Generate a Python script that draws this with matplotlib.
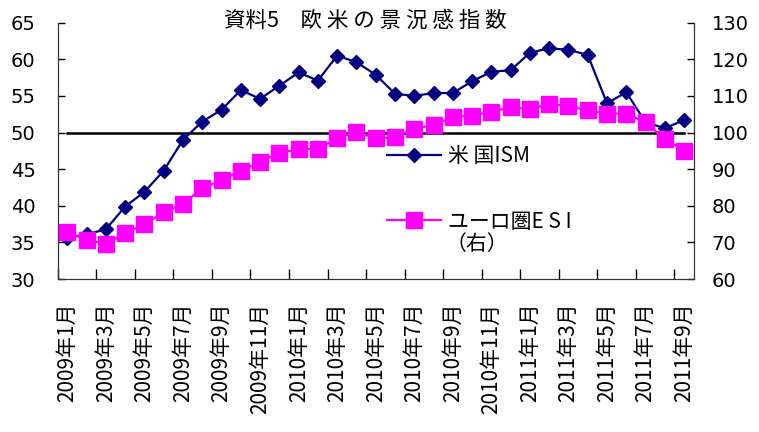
import matplotlib
matplotlib.use("Agg")
import matplotlib.pyplot as plt
from matplotlib.lines import Line2D

plt.rcParams['font.family'] = ['Noto Sans CJK JP', 'DejaVu Sans']

months = [f"{y}年{m}月" for y in (2009, 2010, 2011) for m in range(1, 13)][:33]
ism = [35.6, 36.1, 36.8, 39.9, 41.9, 44.8, 49.0, 51.5, 53.1, 55.8, 54.6, 56.4,
       58.2, 57.1, 60.5, 59.6, 57.9, 55.3, 55.0, 55.4, 55.4, 57.0, 58.3, 58.5,
       60.9, 61.5, 61.3, 60.6, 54.0, 55.5, 51.4, 50.6, 51.7]
esi = [72.9, 70.6, 69.7, 72.5, 75.0, 78.2, 80.5, 84.8, 87.0, 89.6, 91.9, 94.5,
       95.4, 95.6, 98.4, 100.2, 98.4, 98.7, 101.1, 102.0, 104.3, 104.6, 105.7, 106.9,
       106.4, 107.8, 107.2, 106.1, 105.2, 105.2, 102.8, 98.2, 95.1]
base = [50] * len(months)

NAVY = '#000080'
MAGENTA = '#FF00FF'

fig = plt.figure(figsize=(7.59, 4.32), dpi=100)
ax = fig.add_axes([0.076, 0.354, 0.838, 0.5935])
ax2 = ax.twinx()

x = range(len(months))
ax.plot(x, base, color='black', lw=1.8, zorder=2)
ax.plot(x, ism, color=NAVY, lw=1.6, marker='D', ms=7.5, zorder=3)
ax2.plot(x, esi, color=MAGENTA, lw=1.6, marker='s', ms=11.5, zorder=3)

ax.set_xlim(-0.5, len(months) - 0.5)
ax.set_ylim(30, 65)
ax.set_yticks(range(30, 66, 5))
ax2.set_ylim(60, 130)
ax2.set_yticks(range(60, 131, 10))

ax.set_xticks([i - 0.5 for i in range(0, len(months), 2)])
ax.set_xticklabels([])
ax.set_xticks(list(range(0, len(months), 2)), minor=True)
ax.set_xticklabels(months[::2], minor=True, rotation=90, fontsize=15)
ax.tick_params(axis='x', which='major', direction='in', length=7, width=1)
ax.tick_params(axis='x', which='minor', length=0, pad=17)
ax.tick_params(axis='y', direction='in', length=5, width=1, labelsize=14, pad=16)
ax2.tick_params(axis='y', direction='in', length=5, width=1, labelsize=14, pad=13)
for lbl in ax.get_yticklabels() + ax2.get_yticklabels():
    lbl.set_fontfamily('DejaVu Sans')

for a in (ax, ax2):
    a.spines['top'].set_visible(False)
    for s in ('left', 'right', 'bottom'):
        a.spines[s].set_color('#333333')

fig.text(0.481, 0.953, '資料5　欧 米 の 景 況 感 指 数', ha='center', va='center', fontsize=15.5)

handles = [Line2D([], [], color=NAVY, lw=1.6, marker='D', ms=7),
           Line2D([], [], color=MAGENTA, lw=1.6, marker='s', ms=11.5)]
ax.legend(handles, ['米 国ISM', 'ユーロ圏E S I'], loc='upper left',
          bbox_to_anchor=(387 / 759, 1 - 145 / 432), bbox_transform=fig.transFigure,
          frameon=False, fontsize=15, handlelength=2.6, handletextpad=0.35,
          labelspacing=2.1, borderpad=0, borderaxespad=0)
fig.text(446 / 759, 1 - 244 / 432, '（右）', ha='left', va='center', fontsize=15)

fig.savefig('out.png', dpi=100)
